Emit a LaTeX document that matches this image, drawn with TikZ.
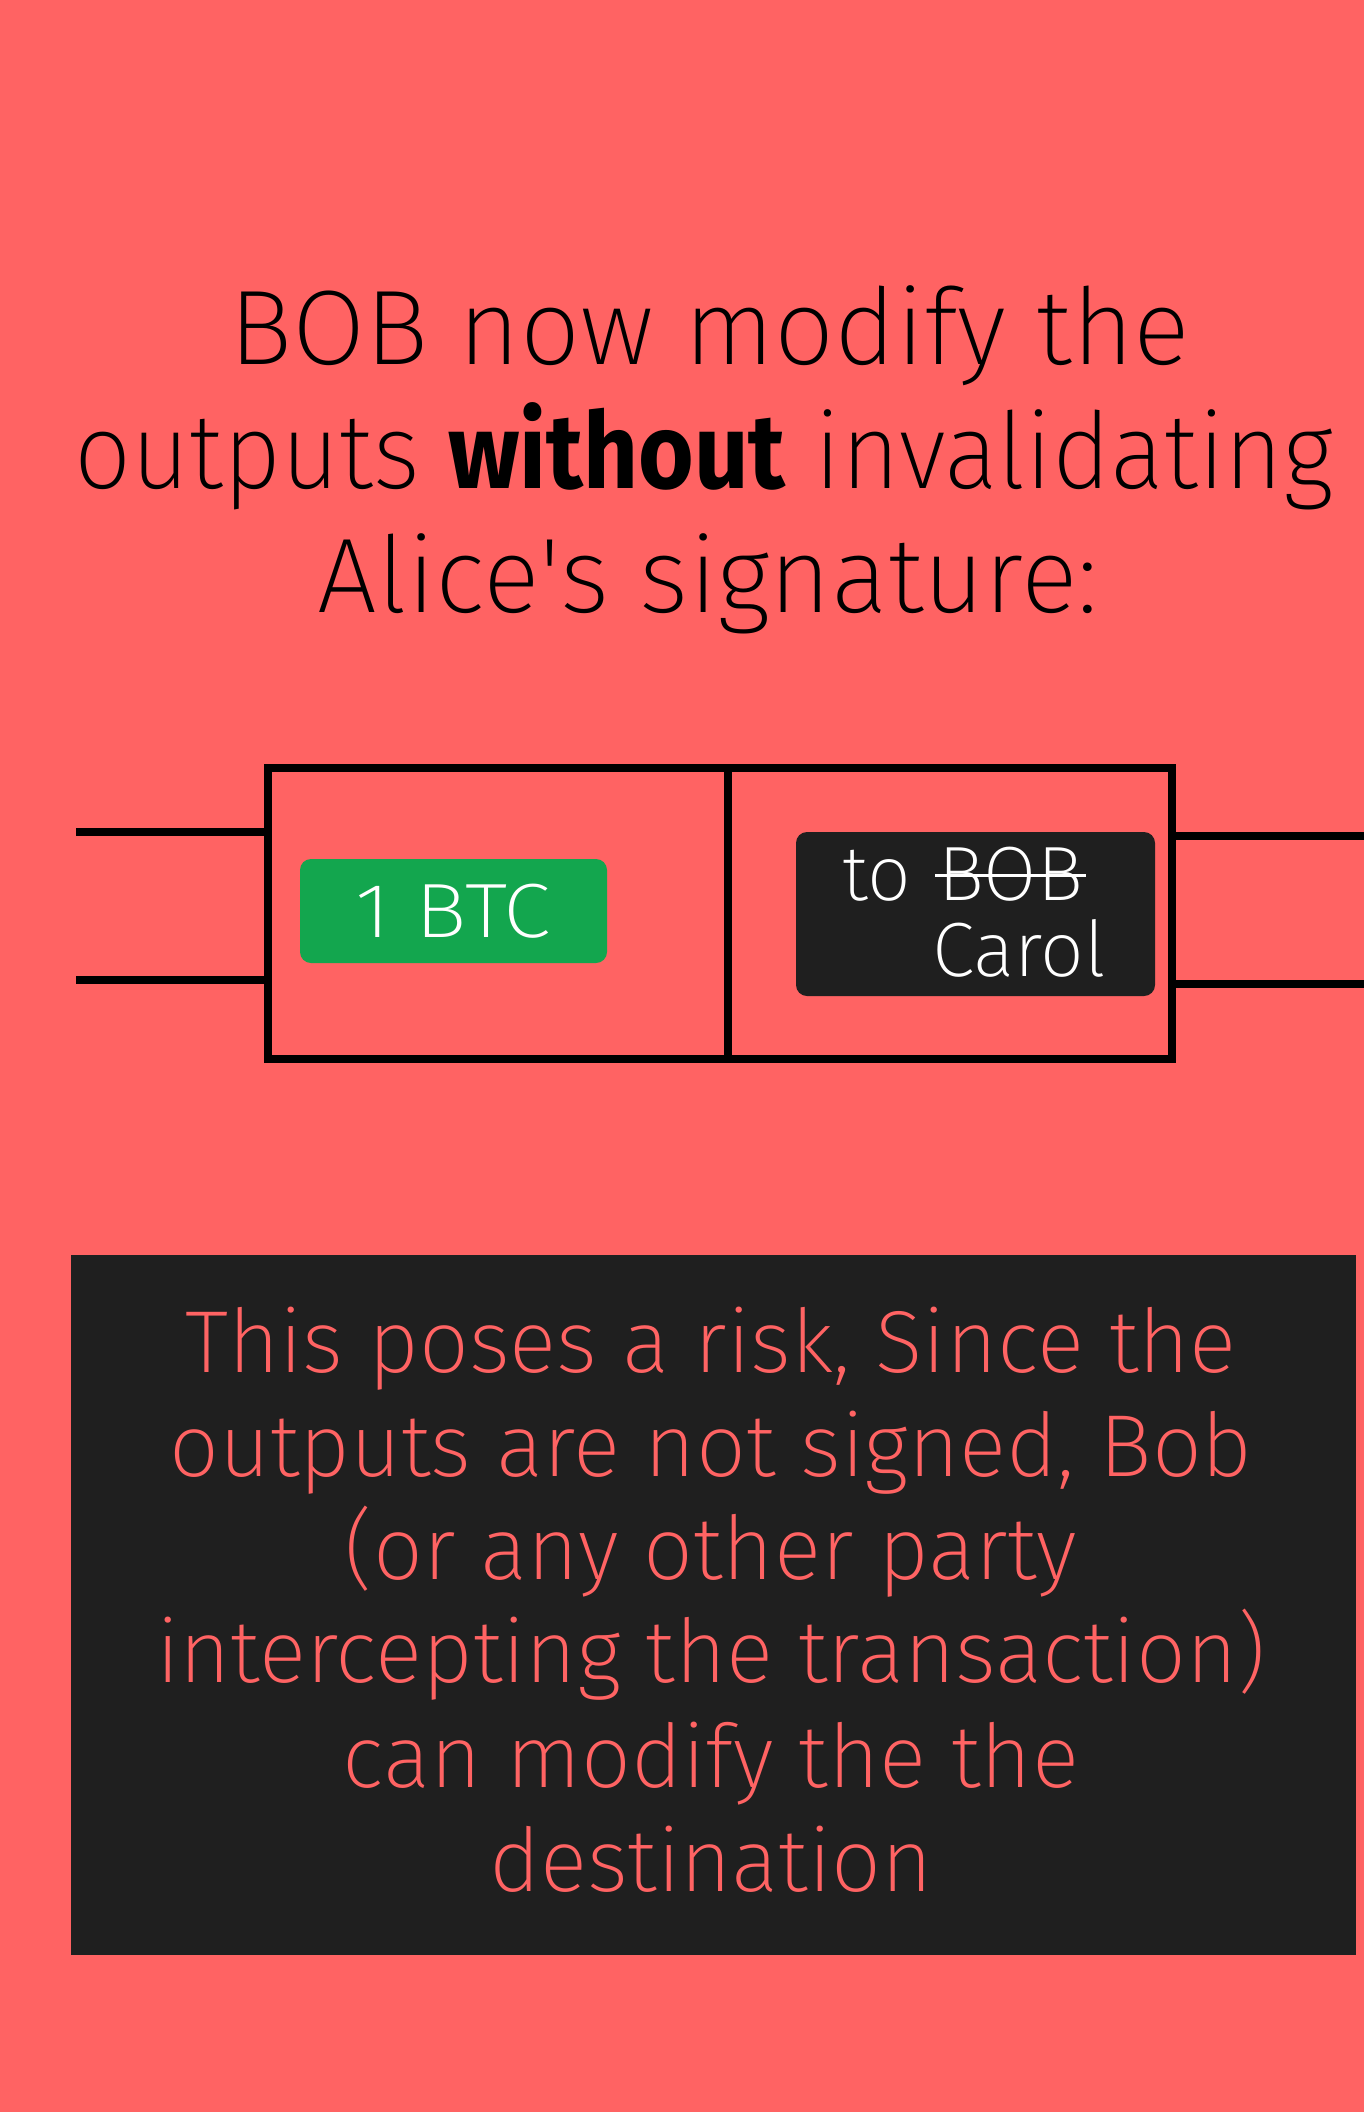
\documentclass[tikz,border=0pt]{standalone}
\usepackage{fontspec}
\setmainfont{Fira Sans}[UprightFont={* ExtraLight}, BoldFont={* Bold}, BoldFeatures={FakeStretch=0.9}]
\newfontfamily\btcfont{Fira Sans}[UprightFont={* ExtraLight}, FakeStretch=1.12]
\newfontfamily\narrowlight{Fira Sans}[UprightFont={* ExtraLight}, FakeStretch=0.95]
\newfontfamily\narrowbold{Fira Sans}[UprightFont={* Bold}, FakeStretch=0.9]
\definecolor{bg}{HTML}{FF6363}
\definecolor{dark}{HTML}{1F1F1F}
\definecolor{btcgreen}{HTML}{13A64E}
\tikzset{
  title/.style={anchor=base, inner sep=0, font=\fontsize{106}{124}\selectfont, text=black},
  body/.style={anchor=base, inner sep=0, font=\fontsize{88}{104}\selectfont, text=bg},
  half/.style={draw=black, line width=8pt, minimum height=291pt, inner sep=0},
  wire/.style={draw=black, line width=8pt},
  boxtxt/.style={inner sep=0, font=\fontsize{77}{90}\selectfont, text=white},
}
\begin{document}
\begin{tikzpicture}[x=1pt,y=-1pt]
\useasboundingbox (0,0) rectangle (1364,2112);
\fill[bg] (0,0) rectangle (1364,2112);

% title
\node[title] (t1) at (710,364) {BOB now modify the};
\node[title] (t2) at (704,488) {\narrowlight outputs {\narrowbold without} invalidating};
\node[title] (t3) at (708,612) {Alice\textquotesingle s signature:};

% transaction box
\node[half, minimum width=460pt] (inbox) at (498,913.5) {};
\node[half, minimum width=444pt] (outbox) at (950,913.5) {};

\coordinate (l1) at (76,832);
\coordinate (l2) at (76,980);
\coordinate (r1) at (1364,836);
\coordinate (r2) at (1364,984);
\draw[wire] (l1) -- (l1 -| inbox.west);
\draw[wire] (l2) -- (l2 -| inbox.west);
\draw[wire] (r1 -| outbox.east) -- (r1);
\draw[wire] (r2 -| outbox.east) -- (r2);

\node[fill=btcgreen, rounded corners=11pt, minimum width=307pt, minimum height=104pt,
      inner sep=0, font=\btcfont\fontsize{77}{90}\selectfont, text=white] (btc) at (453.5,911) {1 BTC};

\node[fill=dark, rounded corners=11pt, minimum width=359pt, minimum height=164pt, inner sep=0] (dest) at (975.5,914) {};
\node[boxtxt, anchor=base west] (dto) at (842,900) {to};
\node[boxtxt, anchor=base west] (dbob) at (938,900) {BOB};
\node[boxtxt, anchor=base west] (dcarol) at (932,976) {Carol};
\draw[white, line width=2.5pt] ([xshift=-3pt, yshift=-2pt]dbob.west) -- ([xshift=3pt, yshift=-2pt]dbob.east);

% risk note
\node[fill=dark, minimum width=1285pt, minimum height=700pt, inner sep=0] (note) at (713.5,1605) {};
\node[body] (n1) at (711,1372) {This poses a risk, Since the};
\node[body] (n2) at (711,1476) {outputs are not signed, Bob};
\node[body] (n3) at (711,1579) {(or any other party};
\node[body] (n4) at (711,1682) {intercepting the transaction)};
\node[body] (n5) at (711,1787) {can modify the the};
\node[body] (n6) at (711,1891) {destination};
\end{tikzpicture}
\end{document}
